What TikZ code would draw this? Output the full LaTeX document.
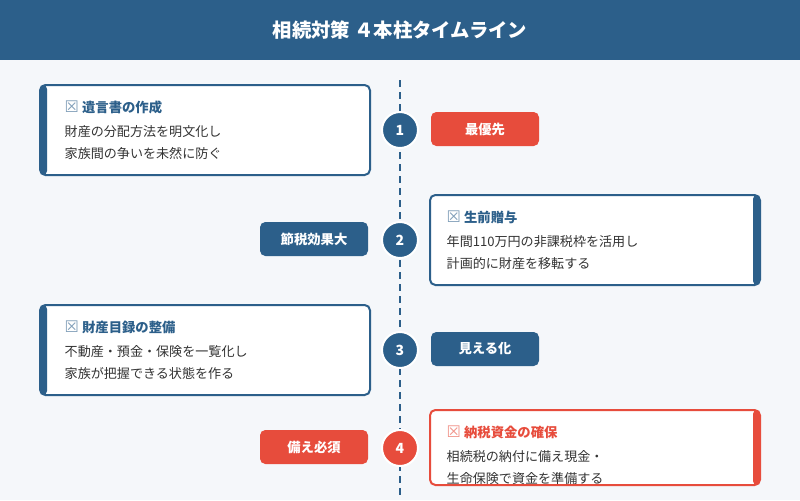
\documentclass[tikz,border=0pt]{standalone}
\usepackage{fontspec}
\setmainfont{Noto Sans CJK JP}
\newfontfamily\symf{DejaVu Sans}
\begin{document}
\begin{tikzpicture}[x=0.75pt,y=-0.75pt,
  font=\fontsize{9.5pt}{12pt}\selectfont,
  card/.style={draw=#1,line width=1.5pt,fill=white,rounded corners=4pt},
  num/.style={circle,fill=#1,draw=white,line width=1.5pt,minimum size=27pt,inner sep=0,text=white,font=\fontsize{10.5pt}{12pt}\selectfont\bfseries},
  badge/.style={fill=#1,rounded corners=4pt,minimum width=81pt,minimum height=25.5pt,text=white,font=\fontsize{10pt}{12pt}\selectfont\bfseries},
  ttl/.style={anchor=west,text=#1,font=\fontsize{10pt}{12pt}\selectfont\bfseries},
  bod/.style={anchor=north west,align=left,text=black!80,font=\fontsize{9.8pt}{16.5pt}\selectfont}]
\definecolor{navy}{HTML}{2C5F8A}
\definecolor{red}{HTML}{E74C3C}
\definecolor{bg}{HTML}{F5F7FA}
\newcommand{\xbox}[1]{{\symf\mdseries\fontsize{12pt}{12pt}\selectfont\color{#1!60}☒}}
\fill[bg] (0,0) rectangle (800,500);
\fill[navy] (0,0) rectangle (800,60);
\node[text=white,font=\fontsize{14.5pt}{16pt}\selectfont\bfseries] (title) at (400,30) {相続対策 ４本柱タイムライン};
\coordinate (lt) at (400,80); \coordinate (lb) at (400,495);
\draw[navy,line width=2.2pt,dash pattern=on 5pt off 4pt] (lt) -- (lb);
% card 1
\draw[card=navy] (40,85) rectangle (370,175);
\fill[navy,rounded corners=3pt] (40,85) rectangle (47,175);
\node[ttl=navy] (t1) at (60,107) {\xbox{navy} 遺言書の作成};
\node[bod] (b1) at (60,121) {財産の分配方法を明文化し\\家族間の争いを未然に防ぐ};
\node[num=navy] (n1) at (400,130) {1};
\node[badge=red] (g1) at (485,129) {最優先};
% card 2
\draw[card=navy] (430,195) rectangle (760,285);
\fill[navy,rounded corners=3pt] (753,195) rectangle (760,285);
\node[ttl=navy] (t2) at (442,217) {\xbox{navy} 生前贈与};
\node[bod] (b2) at (442,231) {年間110万円の非課税枠を活用し\\計画的に財産を移転する};
\node[num=navy] (n2) at (400,240) {2};
\node[badge=navy] (g2) at (314,239) {節税効果大};
% card 3
\draw[card=navy] (40,305) rectangle (370,395);
\fill[navy,rounded corners=3pt] (40,305) rectangle (47,395);
\node[ttl=navy] (t3) at (60,327) {\xbox{navy} 財産目録の整備};
\node[bod] (b3) at (60,341) {不動産・預金・保険を一覧化し\\家族が把握できる状態を作る};
\node[num=navy] (n3) at (400,350) {3};
\node[badge=navy] (g3) at (485,349) {見える化};
% card 4
\draw[card=red] (430,410) rectangle (760,485);
\fill[red,rounded corners=3pt] (753,410) rectangle (760,485);
\node[ttl=red] (t4) at (442,432) {\xbox{red} 納税資金の確保};
\node[bod] (b4) at (442,446) {相続税の納付に備え現金・\\生命保険で資金を準備する};
\node[num=red] (n4) at (400,448) {4};
\node[badge=red] (g4) at (314,447) {備え必須};
\end{tikzpicture}
\end{document}
